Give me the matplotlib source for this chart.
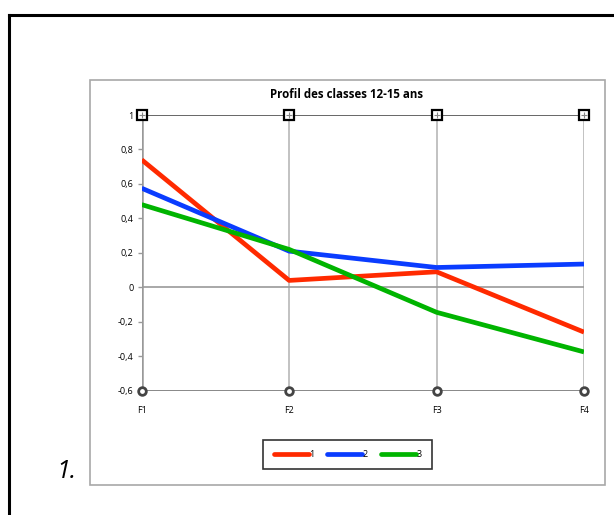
import matplotlib.pyplot as plt
from matplotlib.patches import Rectangle
from matplotlib.lines import Line2D

# Profils moyens des classes (facteurs F1..F4)
facteurs = ["F1", "F2", "F3", "F4"]
classe_1 = [0.74, 0.04, 0.09, -0.26]
classe_2 = [0.575, 0.21, 0.115, 0.135]
classe_3 = [0.48, 0.22, -0.145, -0.375]
yticks = [-0.6, -0.4, -0.2, 0, 0.2, 0.4, 0.6, 0.8, 1]
ytick_labels = ["-0,6", "-0,4", "-0,2", "0", "0,2", "0,4", "0,6", "0,8", "1"]

ROUGE = "#ff2a00"
BLEU = "#0a3cff"
VERT = "#00b400"

plt.rcParams["font.family"] = ["Open Sans", "DejaVu Sans"]

fig = plt.figure(figsize=(6.14, 5.15), dpi=100)
W, H = 614, 515

# cadre noir extérieur
fig.add_artist(Line2D([9 / W, 9 / W], [0, 1 - 15 / H], transform=fig.transFigure,
                      color="black", lw=2.2))
fig.add_artist(Line2D([9 / W, 1], [1 - 15 / H, 1 - 15 / H], transform=fig.transFigure,
                      color="black", lw=2.2))

# cadre gris du graphique
fig.add_artist(Rectangle((90 / W, 1 - 485 / H), 515 / W, 405 / H, transform=fig.transFigure,
                         fill=False, edgecolor="#a8a8a8", lw=1.2))

fig.text(56 / W, 1 - 471 / H, "1.", fontsize=18, style="italic", va="center", ha="left")
fig.text(347 / W, 1 - 95 / H, "Profil des classes 12-15 ans", fontsize=8.3,
         fontweight="bold", ha="center", va="center")

ax = fig.add_axes([141.7 / W, 124.3 / H, 442.3 / W, 275.7 / H])
x = list(range(1, len(facteurs) + 1))

ax.set_xlim(1, 4)
ax.set_ylim(-0.6, 1)
for xi in x[1:]:
    ax.axvline(xi, color="#b8b8b8", lw=1.2, zorder=1)
ax.axhline(0, color="#999999", lw=1.2, zorder=1)
ax.axhline(1, color="#666666", lw=1.4, zorder=1)
ax.axhline(-0.6, color="#888888", lw=1.4, zorder=1)

for s in ax.spines.values():
    s.set_visible(False)
ax.axvline(1, color="#999999", lw=1.8, zorder=1)

l1, = ax.plot(x, classe_1, color=ROUGE, lw=3.4, solid_capstyle="butt", zorder=3, label="1")
l2, = ax.plot(x, classe_2, color=BLEU, lw=3.4, solid_capstyle="butt", zorder=3, label="2")
l3, = ax.plot(x, classe_3, color=VERT, lw=3.4, solid_capstyle="butt", zorder=3, label="3")

ax.plot(x, [1] * len(x), ls="none", marker="s", ms=6.5, mfc="white", mec="black",
        mew=1.6, clip_on=False, zorder=5)
ax.plot(x, [1] * len(x), ls="none", marker="+", ms=5, mec="#888888",
        mew=0.8, clip_on=False, zorder=6)
ax.plot(x, [-0.6] * len(x), ls="none", marker="o", ms=5.5, mfc="white", mec="#444444",
        mew=2, clip_on=False, zorder=5)

ax.set_xticks(x)
ax.set_xticklabels(facteurs, fontsize=6.5)
ax.tick_params(axis="x", length=0, pad=11)
ax.set_yticks(yticks)
ax.set_yticklabels(ytick_labels, fontsize=6.5)
ax.tick_params(axis="y", length=3, color="#999999", width=1, pad=3)

leg = fig.legend(handles=[l1, l2, l3], loc="center", ncol=3,
                 bbox_to_anchor=(347.5 / W, 1 - 454.5 / H), fontsize=6.5,
                 frameon=True, fancybox=False, handlelength=3.9, handletextpad=0.05,
                 columnspacing=1.4, borderpad=1.15, borderaxespad=0)
leg.get_frame().set_edgecolor("black")
leg.get_frame().set_linewidth(1.2)
for h in leg.get_lines():
    h.set_solid_capstyle("round")

fig.savefig("out.png", dpi=100)
